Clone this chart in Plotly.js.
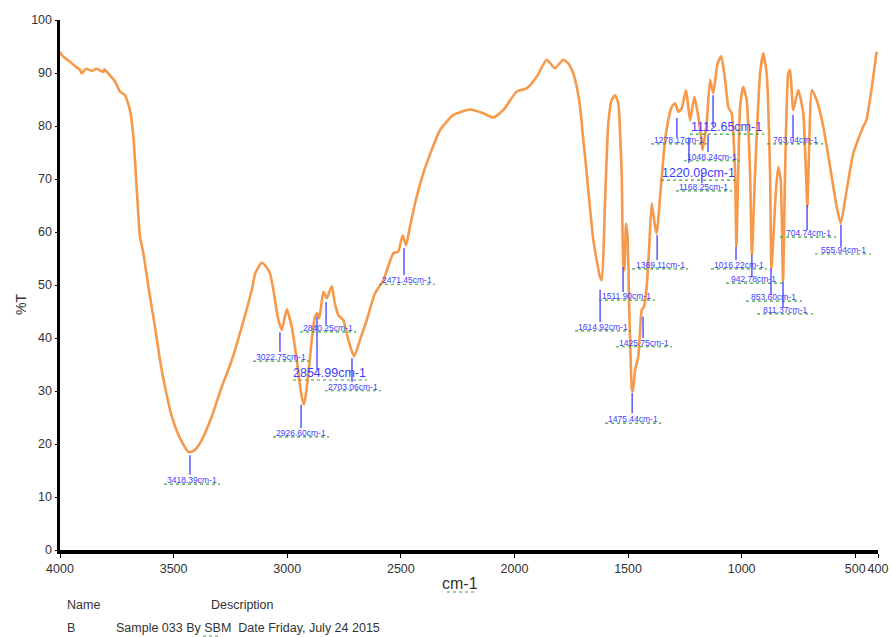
<!DOCTYPE html>
<html>
<head>
<meta charset="utf-8">
<script src="https://cdn.plot.ly/plotly-3.0.1.min.js"></script>
<style>html,body{margin:0;padding:0;background:#fff;}#chart{width:892px;height:637px;}</style>
</head>
<body>
<div id="chart"></div>
<script>
// Wavenumber (cm-1) and %T
const wavenumber = [4000,3993,3956,3931,3912,3905,3885,3860,3840,3809,3805,3787,3758,3736,3714,3692,3677,3662,3648,3633,3611,3582,3560,3538,3508,3472,3435,3418,3406,3376,3332,3288,3244,3200,3156,3140,3112,3090,3076,3061,3042,3024,3002,2980,2958,2939,2929,2926,2917,2907,2892,2878,2868,2859,2841,2826,2804,2790,2775,2753,2731,2706,2680,2650,2614,2577,2533,2511,2492,2477,2460,2430,2401,2364,2328,2269,2196,2137,2093,2049,1990,1946,1902,1858,1822,1785,1763,1741,1723,1711,1697,1682,1668,1653,1638,1624,1615,1602,1587,1572,1557,1543,1535,1528,1521,1516,1509,1502,1495,1489,1483,1479,1469,1462,1455,1447,1440,1430,1418,1407,1396,1389,1381,1374,1367,1359,1348,1337,1323,1308,1293,1279,1264,1245,1235,1227,1208,1191,1179,1172,1164,1154,1139,1125,1106,1090,1073,1059,1044,1029,1023,1007,993,978,963,955,941,919,905,890,875,869,849,839,828,818,809,795,787,773,751,729,717,711,702,692,670,641,611,582,564,538,509,465,451,429,406];
const transmittance = [94.0,93.4,92.1,91.2,90.6,89.9,90.8,90.4,90.8,90.2,90.7,89.9,88.4,86.5,85.8,83.0,78.0,67.9,59.1,56.0,49.7,42.1,35.8,30.8,25.2,21.1,18.5,18.6,18.9,20.8,25.2,30.8,35.8,42.1,49.1,52.3,54.2,53.3,52.2,49.1,44.0,41.5,45.4,42.1,35.8,29.6,27.7,27.5,29.6,33.3,39.6,44.0,44.7,43.7,48.7,47.5,49.8,46.5,44.3,43.4,39.6,36.5,39.6,43.4,48.4,50.9,56.0,56.3,59.4,57.5,61.0,66.7,71.1,75.5,79.2,82.1,83.1,82.4,81.6,83.0,86.5,87.1,89.3,92.5,90.9,92.5,91.8,89.9,86.8,83.6,77.4,71.1,64.8,58.5,54.7,51.6,50.9,64.8,80.5,84.9,85.8,84.3,78.6,71.1,54.1,52.8,61.6,59.1,45.9,36.5,30.2,29.9,34.0,35.2,36.5,41.5,45.3,45.9,49.7,57.2,65.4,63.5,61.0,59.7,62.3,66.7,72.3,77.4,81.1,83.6,84.3,82.7,83.3,86.8,83.6,81.1,85.5,81.8,78.0,75.5,77.4,80.5,88.7,86.2,91.8,93.2,88.7,83.6,82.4,71.1,57.3,83.6,87.4,84.9,71.1,55.7,71.1,89.9,93.7,89.9,71.1,53.2,67.9,72.3,69.8,50.6,71.1,89.9,90.6,83.0,86.8,82.4,71.1,64.8,77.4,86.8,84.9,79.9,72.3,64.8,61.6,67.9,74.8,79.9,81.1,86.8,94.0];

// Peak labels
const peakLabels = ["3418.39cm-1","3022.75cm-1","2926.60cm-1","2854.99cm-1","2840.25cm-1","2703.06cm-1","2471.45cm-1","1614.92cm-1","1511.90cm-1","1475.44cm-1","1425.75cm-1","1369.11cm-1","1278.17cm-1","1112.65cm-1","1048.24cm-1","1220.09cm-1","1168.25cm-1","763.94cm-1","1016.22cm-1","942.78cm-1","853.60cm-1","811.37cm-1","704.74cm-1","555.94cm-1"];
const peakLarge = [0,0,0,1,0,0,0,0,0,0,0,0,0,1,0,1,0,0,0,0,0,0,0,0];
// marker line: x, top, bottom ; label: x, y  (cm-1, %T)
const markX   = [3428,3032,2939,2869,2829,2715,2486,1623,1522,1482,1434,1372,1285,1126,1148,1232,1175,774,1025,955,871,818,712,563];
const markTop = [17.9,41.1,27.4,44.0,46.8,36.2,57.0,49.1,53.4,29.6,44.0,59.4,81.5,85.8,78.3,77.9,71.1,82.1,57.2,55.7,53.2,50.6,65.1,61.3];
const markBot = [14.2,37.4,23.0,34.0,42.5,31.7,51.9,43.0,48.7,25.8,40.0,54.7,77.9,79.8,75.1,73.0,69.2,77.7,54.7,51.5,48.1,45.7,60.4,57.2];
const labX    = [3419,3027,2939,2812,2820,2711,2473,1610,1505,1478,1430,1359,1276,1065,1131,1192,1166,765,1012,946,858,809,708,554];
const labY    = [13.2,36.4,22.1,33.4,41.9,30.8,50.9,42.1,47.9,24.7,39.1,53.8,77.4,79.8,74.2,71.1,68.5,77.4,53.8,51.1,47.7,45.3,59.8,56.6];

const xTicks = [4000,3500,3000,2500,2000,1500,1000,500,400];
const yTicks = [0,10,20,30,40,50,60,70,80,90,100];

const trace = {
  x: wavenumber, y: transmittance, type: 'scatter', mode: 'lines',
  line: {color: '#f7994a', width: 2.6, shape: 'spline', smoothing: 0.5},
  hoverinfo: 'x+y', showlegend: false
};

const shapes = [];
const annotations = [];
const blue = '#3d3dff';
for (let i = 0; i < peakLabels.length; i++) {
  shapes.push({type:'line', xref:'x', yref:'y', x0:markX[i], x1:markX[i], y0:markTop[i], y1:markBot[i], line:{color:blue, width:1.3}});
  const big = peakLarge[i] === 1;
  annotations.push({xref:'x', yref:'y', x:labX[i], y:labY[i], text:peakLabels[i], showarrow:false,
    font:{family:'Liberation Sans, Arial, sans-serif', size: big ? 12.5 : 8.5, color: blue}});
  const half = big ? 37 : 28;
  shapes.push({type:'line', xref:'x', yref:'y', xsizemode:'pixel', ysizemode:'pixel', xanchor:labX[i], yanchor:labY[i],
    x0:-half, x1:half, y0: big ? -7 : -4, y1: big ? -7 : -4, line:{color:'#3fa03f', width:1.2, dash:'dot'}});
}

// bottom texts
const textFont = {family:'Liberation Sans, Arial, sans-serif', size: 12.5, color:'#333333'};
annotations.push({xref:'paper', yref:'paper', x:(460-60)/818, y:-(583-550)/530, text:'cm-1', showarrow:false, xanchor:'center', yanchor:'middle', font:{family:'Liberation Sans, Arial, sans-serif', size:16, color:'#333333'}});
annotations.push({xref:'paper', yref:'paper', x:(21-60)/818, y:(550-305)/530, text:'%T', showarrow:false, textangle:-90, xanchor:'center', yanchor:'middle', font:{family:'Liberation Sans, Arial, sans-serif', size:14, color:'#333333'}});
annotations.push({xref:'paper', yref:'paper', x:(65-60)/818, y:-(605-550)/530, text:'Name', showarrow:false, xanchor:'left', yanchor:'middle', font:textFont});
annotations.push({xref:'paper', yref:'paper', x:(209-60)/818, y:-(605-550)/530, text:'Description', showarrow:false, xanchor:'left', yanchor:'middle', font:textFont});
annotations.push({xref:'paper', yref:'paper', x:(65-60)/818, y:-(628-550)/530, text:'B', showarrow:false, xanchor:'left', yanchor:'middle', font:textFont});
annotations.push({xref:'paper', yref:'paper', x:(114-60)/818, y:-(628-550)/530, text:'Sample 033 By SBM  Date Friday, July 24 2015', showarrow:false, xanchor:'left', yanchor:'middle', font:textFont});
// spell-check squiggles under "cm-1" and "By"
shapes.push({type:'line', xref:'paper', yref:'paper', x0:(447-60)/818, x1:(474-60)/818, y0:-(592-550)/530, y1:-(592-550)/530, line:{color:'#3fa03f', width:1.2, dash:'dot'}});
shapes.push({type:'line', xref:'paper', yref:'paper', x0:(203-60)/818, x1:(218-60)/818, y0:-(636-550)/530, y1:-(636-550)/530, line:{color:'#3fa03f', width:1.2, dash:'dot'}});

const layout = {
  width: 892, height: 637,
  margin: {l: 60, r: 14, t: 20, b: 87},
  paper_bgcolor: '#ffffff', plot_bgcolor: '#ffffff',
  font: {family: 'Liberation Sans, Arial, sans-serif', size: 12, color: '#333333'},
  xaxis: {range: [4000, 400], tickvals: xTicks, ticktext: xTicks.map(String), tickangle: 0, showgrid: false, zeroline: false,
    showline: true, linecolor: '#000000', linewidth: 3.5, ticks: 'outside', ticklen: 4, tickcolor: '#000000', tickwidth: 1,
    tickfont: {size: 12.5, color: '#333333'}},
  yaxis: {range: [0, 100], tickvals: yTicks, showgrid: false, zeroline: false,
    showline: true, linecolor: '#000000', linewidth: 3.5, ticks: 'outside', ticklen: 2, tickcolor: '#000000', tickwidth: 1,
    tickfont: {size: 12.5, color: '#333333'}},
  shapes: shapes,
  annotations: annotations,
  showlegend: false
};

Plotly.newPlot('chart', [trace], layout, {displayModeBar: false, staticPlot: true});
</script>
</body>
</html>
